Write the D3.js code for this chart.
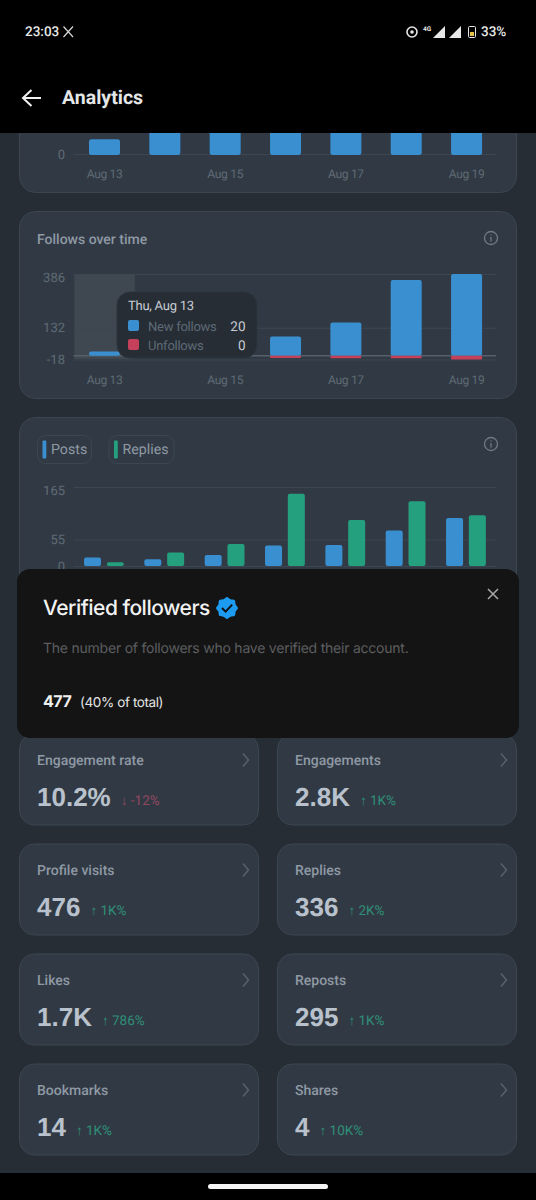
<!DOCTYPE html>
<html><head><meta charset="utf-8">
<script src="https://cdn.jsdelivr.net/npm/d3@7"></script>
<style>
html,body{margin:0;padding:0;background:#262d35;}
svg{display:block;}
text{font-family:Roboto,sans-serif;font-kerning:normal;text-rendering:geometricPrecision;}
</style></head><body>
<svg id="c" width="536" height="1200" viewBox="0 0 536 1200"></svg>
<script>
const days = ["Aug 13","Aug 14","Aug 15","Aug 16","Aug 17","Aug 18","Aug 19"];
const tickDays = ["Aug 13","Aug 15","Aug 17","Aug 19"];
const topValues = [20,70,75,80,80,85,85];
const newFollows = [20,30,50,91,157,358,386];
const unfollows = [0,-2,-4,-11,-12,-12,-18];
const followTicks = [-18,132,386];
const posts = [18,14,23,43,44,74,100];
const replies = [8,28,46,151,96,135,106];
const postTicks = [0,55,165];
const metricNames = ["Engagement rate","Engagements","Profile visits","Replies","Likes","Reposts","Bookmarks","Shares"];
const metricValues = ["10.2%","2.8K","476","336","1.7K","295","14","4"];
const metricDeltas = ["↓ -12%","↑ 1K%","↑ 1K%","↑ 2K%","↑ 786%","↑ 1K%","↑ 1K%","↑ 10K%"];

const C = {bg:"#262d35",card:"#313a44",border:"#3c4651",blue:"#3a8fd0",red:"#c5405a",green:"#25a07f",
  tick:"#5f6a75",label:"#8f99a4",grid:"#3c4651",val:"#b9c2cc",up:"#2f8f78",down:"#93475f"};
const svg = d3.select("#c");
const x = d3.scaleBand().domain(days).range([74.4,496.8]);
const gridX = [73.5,496];

function card(g,x0,y0,w,h,r){
  g.append("rect").attr("x",x0+.5).attr("y",y0+.5).attr("width",w-1).attr("height",h-1).attr("rx",r||16)
   .attr("fill",C.card).attr("stroke",C.border);
}
function xLabels(g,yy){
  g.selectAll(null).data(tickDays).join("text").attr("x",d=>x(d)+x.bandwidth()/2).attr("y",yy)
   .attr("text-anchor","middle").attr("font-size",12).attr("letter-spacing",-0.3).attr("fill",C.tick).text(d=>d);
}
function yAxis(g,scale,ticks){
  const top = d3.max(ticks);
  g.selectAll(null).data(ticks).join("line").attr("x1",gridX[0]).attr("x2",gridX[1])
   .attr("y1",d=>scale(d)+.5).attr("y2",d=>scale(d)+.5).attr("stroke",C.grid);
  g.selectAll(null).data(ticks).join("text").attr("x",65).attr("y",d=>scale(d)+(d===top&&ticks.length>1?8:4.5))
   .attr("text-anchor","end").attr("font-size",13).attr("fill",C.tick).text(d=>d);
}
function info(g,cx,cy){
  const s=g.append("g").attr("stroke","#6f7a85").attr("fill","none").attr("stroke-width",1.3);
  s.append("circle").attr("cx",cx).attr("cy",cy).attr("r",6.5);
  s.append("line").attr("x1",cx).attr("x2",cx).attr("y1",cy-1).attr("y2",cy+3.5);
  s.append("line").attr("x1",cx).attr("x2",cx).attr("y1",cy-3.6).attr("y2",cy-2.6);
}

/* top partial card */
const g0 = svg.append("g");
card(g0,19,60,498,133);
const y0 = d3.scaleLinear().domain([0,165]).range([154,33]);
yAxis(g0,y0,[0]);
g0.selectAll(null).data(topValues).join("rect").attr("x",(d,i)=>x(days[i])+14.6).attr("width",31)
  .attr("y",d=>y0(d)).attr("height",d=>y0(0)-y0(d)+1).attr("rx",2.5).attr("fill",C.blue);
xLabels(g0,178);

/* follows card */
const g1 = svg.append("g");
card(g1,19,211,498,188);
g1.append("text").attr("x",37).attr("y",244).attr("font-size",14).attr("font-weight",500).attr("fill",C.label).text("Follows over time");
info(g1,491,238);
const y1 = d3.scaleLinear().domain([-18,386]).range([359.5,274]);
g1.append("rect").attr("x",x(days[0])).attr("width",x.bandwidth()).attr("y",274).attr("height",85).attr("fill","#3f4851");
yAxis(g1,y1,followTicks);
g1.append("line").attr("x1",gridX[0]).attr("x2",gridX[1]).attr("y1",y1(0)).attr("y2",y1(0)).attr("stroke","#56606b").attr("stroke-width",1.5);
g1.selectAll(null).data(newFollows).join("rect").attr("x",(d,i)=>x(days[i])+14.6).attr("width",31)
  .attr("y",d=>y1(d)).attr("height",d=>y1(0)-y1(d)).attr("rx",2).attr("fill",C.blue);
g1.selectAll(null).data(unfollows).join("rect").attr("x",(d,i)=>x(days[i])+14.6).attr("width",31)
  .attr("y",y1(0)).attr("height",d=>y1(d)-y1(0)).attr("rx",1).attr("fill",C.red);
xLabels(g1,384);
/* tooltip */
const tt = g1.append("g");
tt.append("rect").attr("x",117).attr("y",292).attr("width",140).attr("height",66).attr("rx",13).attr("fill",C.bg).attr("stroke","#2d343c");
tt.append("text").attr("x",128).attr("y",310).attr("font-size",13).attr("letter-spacing",-0.25).attr("fill","#c6ccd3").text(days[0].replace("Aug","Thu, Aug"));
[["New follows",newFollows[0],C.blue,331],["Unfollows",Math.abs(unfollows[0]),C.red,350]].forEach(r=>{
  tt.append("rect").attr("x",128).attr("y",r[3]-11).attr("width",11).attr("height",11).attr("rx",2).attr("fill",r[2]);
  tt.append("text").attr("x",148).attr("y",r[3]-.5).attr("font-size",13).attr("letter-spacing",-0.25).attr("fill","#5f6a75").text(r[0]);
  tt.append("text").attr("x",245.5).attr("y",r[3]-.5).attr("text-anchor","end").attr("font-size",13.5).attr("fill","#c6ccd3").text(r[1]);
});

/* posts card */
const g2 = svg.append("g");
card(g2,19,417,498,230);
[["Posts",37,54,C.blue],["Replies",108.5,65,C.green]].forEach(l=>{
  g2.append("rect").attr("x",l[1]+.5).attr("y",435.5).attr("width",l[2]).attr("height",28).attr("rx",8).attr("fill","none").attr("stroke",C.border);
  g2.append("rect").attr("x",l[1]+5.5).attr("y",440.5).attr("width",3.8).attr("height",18).attr("rx",1).attr("fill",l[3]);
  g2.append("text").attr("x",l[1]+14).attr("y",454).attr("font-size",14.2).attr("fill",C.label).text(l[0]);
});
info(g2,491,444);
const y2 = d3.scaleLinear().domain([0,165]).range([566,487]);
yAxis(g2,y2,postTicks);
const inner = d3.scaleBand().domain(["posts","replies"]).range([9.6,50.6]).paddingInner(0.17);
g2.selectAll(null).data(posts).join("rect").attr("x",(d,i)=>x(days[i])+inner("posts")).attr("width",17)
  .attr("y",d=>y2(d)).attr("height",d=>y2(0)-y2(d)).attr("rx",2).attr("fill",C.blue);
g2.selectAll(null).data(replies).join("rect").attr("x",(d,i)=>x(days[i])+inner("replies")+.4).attr("width",17)
  .attr("y",d=>y2(d)).attr("height",d=>y2(0)-y2(d)).attr("rx",2).attr("fill",C.green);

/* metric cards */
const g3 = svg.append("g");
metricNames.forEach((name,i)=>{
  const col=i%2,row=Math.floor(i/2);
  const cx=col?277:19,cy=[733.5,843.5,953.5,1063.5][row],w=240,h=92;
  card(g3,cx,cy,w,h,15);
  g3.append("text").attr("x",cx+18).attr("y",cy+31).attr("font-size",14).attr("font-weight",500).attr("fill",C.label).text(name);
  const v=g3.append("text").attr("x",cx+18).attr("y",cy+72).attr("font-size",26).attr("font-weight",700).attr("fill",C.val).text(metricValues[i]);
  v.style("font-family","'Liberation Sans',sans-serif");
  const vw=v.node().getComputedTextLength();
  g3.append("text").attr("x",cx+18+vw+10).attr("y",cy+71.5).attr("font-size",13.5).attr("fill",metricDeltas[i][0]==="↓"?C.down:C.up).text(metricDeltas[i]);
  g3.append("path").attr("d",`M${cx+224} ${cy+20}l5.5 6.5l-5.5 6.5`).attr("fill","none").attr("stroke","#59636e").attr("stroke-width",1.4);
});

/* black bars */
svg.append("rect").attr("width",536).attr("height",133).attr("fill","#000");
svg.append("rect").attr("y",1173).attr("width",536).attr("height",27).attr("fill","#000");
svg.append("rect").attr("x",208).attr("y",1184).attr("width",120).attr("height",5).attr("rx",2.5).attr("fill","#f4f4f4");

/* status bar */
const sb = svg.append("g").attr("fill","#e8e8e8");
sb.append("text").attr("x",25).attr("y",36).attr("font-size",13.5).attr("font-weight",500).text("23:03");
sb.append("path").attr("d","M63.5 26.5L73 37M73 26.5L63.5 37").attr("stroke","#d8d8d8").attr("stroke-width",1.2);
sb.append("circle").attr("cx",412).attr("cy",32).attr("r",5).attr("fill","none").attr("stroke","#e8e8e8").attr("stroke-width",1.6);
sb.append("circle").attr("cx",412).attr("cy",32).attr("r",1.8);
sb.append("text").attr("x",423).attr("y",31).attr("font-size",6.5).attr("font-weight",700).text("4G");
sb.append("path").attr("d","M445 26v12h-12z");
sb.append("path").attr("d","M461 26v12h-12z");
sb.append("rect").attr("x",468.5).attr("y",26.5).attr("width",7).attr("height",11).attr("rx",1.2).attr("fill","none").attr("stroke","#e8e8e8");
sb.append("rect").attr("x",470).attr("y",32).attr("width",4).attr("height",4).attr("fill","#e8c24a");
sb.append("text").attr("x",481).attr("y",36).attr("font-size",13.5).attr("font-weight",500).text("33%");

/* app bar */
svg.append("path").attr("d","M41 98H23M31.5 90l-8.5 8l8.5 8").attr("fill","none").attr("stroke","#f0f0f0").attr("stroke-width",2);
svg.append("text").attr("x",62).attr("y",104).attr("font-size",19.5).attr("font-weight",700).attr("fill","#e4e6e8").text("Analytics");

/* modal */
const m = svg.append("g");
m.append("rect").attr("x",17).attr("y",569).attr("width",502).attr("height",169).attr("rx",13).attr("fill","#141414");
m.append("text").attr("x",43).attr("y",615).attr("font-size",21).attr("font-weight",500).attr("letter-spacing",-0.5).attr("fill","#f2f2f2").style("font-family","Inter").text("Verified followers");
const badge = d3.lineRadial().angle(d=>d.a).radius(d=>d.r).curve(d3.curveCatmullRomClosed);
const pts = d3.range(16).map(k=>({a:k*Math.PI/8,r:k%2?9.4:11}));
m.append("path").attr("transform","translate(227,608)").attr("d",badge(pts)).attr("fill","#1d9bf0");
m.append("path").attr("d","M222 608l3.6 3.6l6.6 -7").attr("fill","none").attr("stroke","#111").attr("stroke-width",2);
m.append("path").attr("d","M488 589l10 10M498 589l-10 10").attr("stroke","#a8a8a8").attr("stroke-width",1.5);
m.append("text").attr("x",43).attr("y",653).attr("font-size",14).attr("letter-spacing",-0.23).attr("fill","#5c5e60").style("font-family","Inter").text("The number of followers who have verified their account.");
m.append("text").attr("x",43).attr("y",707).attr("font-size",16).attr("font-weight",700).attr("letter-spacing",-0.5).attr("fill","#f0f0f0").style("font-family","Inter").text("477");
m.append("text").attr("x",80).attr("y",707).attr("font-size",13.5).attr("letter-spacing",-0.4).attr("fill","#e4e4e4").style("font-family","Inter").text("(40% of total)");
</script>
</body></html>
